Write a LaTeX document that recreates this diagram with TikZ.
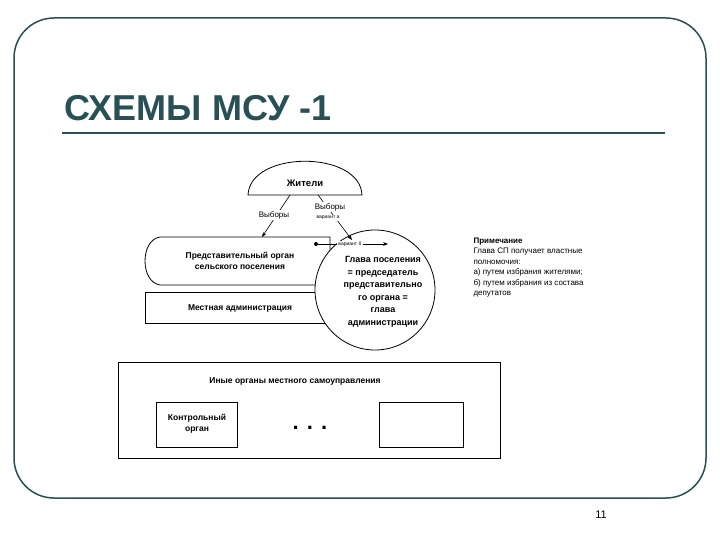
\documentclass[tikz,border=0pt]{standalone}
\usepackage{fontspec}
\setmainfont{Liberation Sans}
\usetikzlibrary{arrows.meta}
\definecolor{teal1}{RGB}{40,80,85}
\begin{document}
\begin{tikzpicture}[x=1pt,y=-1pt,
  lbl/.style={font=\bfseries\fontsize{8.5}{11}\selectfont,align=center},
  sm/.style={font=\fontsize{8}{9}\selectfont},
  tiny/.style={font=\fontsize{5}{6}\selectfont},
  arr/.style={-{Stealth[length=5pt]},line width=0.6pt}]
\useasboundingbox (0,0) rectangle (720,540);
\fill[white] (0,0) rectangle (720,540);
\draw[teal1,line width=1.5pt,rounded corners=40pt] (14,18) rectangle (706,498);
\node[anchor=west,text=teal1,font=\bfseries\fontsize{36}{40}\selectfont,inner sep=0pt] (title) at (64,108) {СХЕМЫ МСУ -1};
\draw[teal1,line width=2pt] (62,133) -- (665,133);
\node[font=\fontsize{11}{13}\selectfont] (num) at (601,515) {11};
% Жители
\draw[line width=0.8pt,fill=white] (248,195) .. controls (250,150) and (360,150) .. (362,195) -- cycle;
\node[lbl,font=\bfseries\fontsize{9.5}{11}\selectfont] (zh) at (305,183) {Жители};
% rep organ
\draw[line width=0.8pt,fill=white] (330,237) -- (160,237) .. controls (140,240) and (140,282) .. (160,285) -- (330,285) -- cycle;
\node[lbl] (rep) at (240,261) {Представительный орган\\сельского поселения};
% admin
\draw[line width=0.8pt,fill=white] (145,292) rectangle (335,323);
\node[lbl] (adm) at (240,308) {Местная администрация};
% circle
\draw[line width=0.8pt,fill=white] (375,290) circle (60);
\node[lbl,font=\bfseries\fontsize{9}{12.5}\selectfont] (gl) at (383,292) {Глава поселения\\= председатель\\представительно\\го органа =\\глава\\администрации};
% arrows
\coordinate (a1) at (290,195); \coordinate (b1) at (262,237);
\draw[arr] (a1) -- (b1);
\node[sm,fill=white,inner sep=1pt] (v1) at (274,215) {Выборы};
\coordinate (a2) at (318,195); \coordinate (b2) at (352,240);
\draw[arr] (a2) -- (b2);
\node[sm,fill=white,inner sep=1pt] (v2) at (330,207) {Выборы};
\node[tiny,fill=white,inner sep=1pt] (va) at (328,218) {вариант а};
\coordinate (c1) at (316,244); \coordinate (c2) at (388,244);
\fill (c1) circle (2);
\draw[arr] (c1) -- (c2);
\node[tiny,fill=white,inner sep=1pt] (vb) at (350,244) {вариант б};
% note
\node[anchor=north west,align=left,font=\fontsize{8}{10.5}\selectfont] (note) at (470,234) {\textbf{Примечание}\\Глава СП получает властные\\полномочия:\\а) путем избрания жителями;\\б) путем избрания из состава\\депутатов};
% other organs
\draw[line width=0.8pt,fill=white] (118,362) rectangle (500,458);
\node[lbl] (oth) at (295,381) {Иные органы местного самоуправления};
\draw[line width=0.8pt] (156,402) rectangle (237,447);
\node[lbl] (ko) at (197,424) {Контрольный\\орган};
\draw[line width=0.8pt] (379,402) rectangle (463,447);
\node[font=\bfseries\fontsize{22}{22}\selectfont] (dots) at (310,428) {. . .};
\end{tikzpicture}
\end{document}
